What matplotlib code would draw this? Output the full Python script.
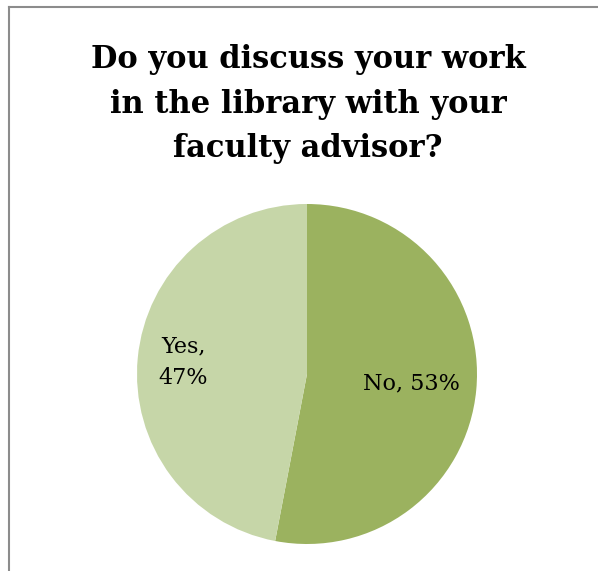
import matplotlib.pyplot as plt
import numpy as np

# survey answers
labels = ["No", "Yes"]
shares = [53, 47]
colors = ["#9BB25F", "#C6D6A8"]
label_dist = [0.62, 0.73]

title = "Do you discuss your work\nin the library with your\nfaculty advisor?"

W, H = 598, 571
fig = plt.figure(figsize=(W / 100, H / 100), dpi=100)

# chart area border (only left and top edges fall inside the picture)
fig.add_artist(plt.Line2D([9 / W, 9 / W], [0, 1 - 7 / H], color="#8c8c8c", lw=1.5))
fig.add_artist(plt.Line2D([9 / W, 1], [1 - 7 / H, 1 - 7 / H], color="#8c8c8c", lw=1.5))

fig.text(308 / W, 1 - 104 / H, title, ha="center", va="center",
         fontsize=22, fontweight="bold", family="DejaVu Serif",
         linespacing=1.55)

# pie: centre ~ (307, 374) px, radius ~ 170 px
cx, cy, r = 307, 374, 170
ax = fig.add_axes([(cx - r) / W, 1 - (cy + r) / H, 2 * r / W, 2 * r / H])
wedges, _ = ax.pie(shares, colors=colors, startangle=90, counterclock=False,
                   radius=1, wedgeprops=dict(linewidth=0))
ax.set_xlim(-1, 1)
ax.set_ylim(-1, 1)
ax.set_aspect("equal")

texts = ["No, 53%", "Yes,\n47%"]
for w, t, d in zip(wedges, texts, label_dist):
    mid = np.radians((w.theta1 + w.theta2) / 2)
    ax.text(d * np.cos(mid), d * np.sin(mid), t, ha="center", va="center",
            fontsize=16, family="DejaVu Serif", linespacing=1.6)

fig.savefig("out.png", dpi=100)
